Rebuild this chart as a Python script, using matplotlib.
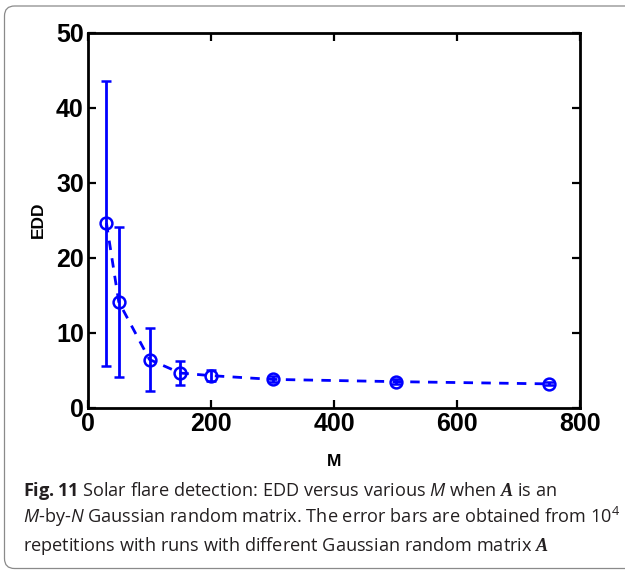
import matplotlib
matplotlib.use("Agg")
from matplotlib import pyplot as plt
from matplotlib import patches, transforms
import numpy as np

# values
M_vals = [30, 50, 100, 150, 200, 300, 500, 750]
edd_mean = [24.6, 14.1, 6.4, 4.6, 4.25, 3.75, 3.45, 3.15]
edd_err = [19.0, 10.0, 4.25, 1.65, 0.75, 0.4, 0.35, 0.2]

x_ticks = [0, 200, 400, 600, 800]
y_ticks = [0, 10, 20, 30, 40, 50]

caption_lines = [
    r"$\mathsf{Fig.\!\,11}$ Solar flare detection: EDD versus various $\mathit{M}$ when $\mathbf{A}$ is an",
    r"$\mathit{M}$-by-$\mathit{N}$ Gaussian random matrix. The error bars are obtained from 10$^{4}$",
    r"repetitions with runs with different Gaussian random matrix $\mathbf{A}$",
]

plt.rcParams['mathtext.fontset'] = 'custom'
plt.rcParams['mathtext.rm'] = 'Open Sans'
plt.rcParams['mathtext.it'] = 'Open Sans:italic'
plt.rcParams['mathtext.bf'] = 'Liberation Serif:italic:bold'
plt.rcParams['mathtext.sf'] = 'Open Sans:bold'

W, H = 625, 570
fig = plt.figure(figsize=(W / 100, H / 100), dpi=100)

# axes box in pixels
left, right, top, bottom = 88, 580, 32.7, 407.5
ax = fig.add_axes([left / W, 1 - bottom / H, (right - left) / W, (bottom - top) / H])

blue = (0, 0, 1)
ax.errorbar(M_vals, edd_mean, yerr=edd_err, color=blue, lw=2.0,
            linestyle=(0, (3.4, 3.0)), marker='o', markersize=8.5,
            mfc='none', mec=blue, mew=1.8, capsize=3.4, capthick=2.0,
            elinewidth=2.0)

ax.set_xlim(0, 800)
ax.set_ylim(0, 50)
ax.set_xticks(x_ticks)
ax.set_yticks(y_ticks)

for s in ax.spines.values():
    s.set_linewidth(2.0)
ax.tick_params(direction='in', top=True, right=True, length=5.8, width=1.6,
               labelsize=18, pad=3)
for lb in ax.get_xticklabels() + ax.get_yticklabels():
    lb.set_fontweight('bold')
    lb.set_fontfamily('Liberation Sans')

ax.set_xlabel('M', fontsize=12.5, fontweight='bold', fontfamily='Liberation Sans')
ax.set_ylabel('EDD', fontsize=12.5, fontweight='bold', fontfamily='Liberation Sans')
ax.xaxis.set_label_coords(0.5, -0.125)
ax.yaxis.set_label_coords(-0.086, 0.5)

# caption under the plot
baselines = [496, 523, 551]
for txt, yb in zip(caption_lines, baselines):
    fig.text(22.7 / W, 1 - yb / H, txt, fontsize=13.1, fontfamily='Open Sans',
             color='#231f20', va='baseline', ha='left')

# rounded frame round the figure
frame = patches.FancyBboxPatch((4.5, 1.5), 660, 562.5,
                               boxstyle="round,pad=0,rounding_size=10",
                               transform=transforms.IdentityTransform(),
                               fill=False, edgecolor='#8a8a8a', lw=0.9)
fig.patches.append(frame)

plt.savefig('out.png', dpi=100)
